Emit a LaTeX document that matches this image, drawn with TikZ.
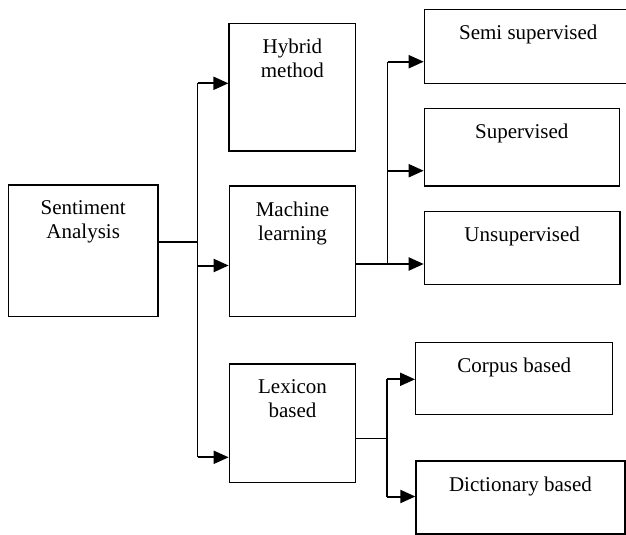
\documentclass[tikz,border=0pt]{standalone}
\usepackage{fontspec}
\setmainfont{Liberation Serif}
\usetikzlibrary{arrows.meta,positioning}
\tikzstyle{blk}=[draw, line width=1.3pt, inner sep=0pt]
\tikzstyle{lbl}=[inner sep=0pt, align=center, font=\fontsize{21}{24.4}\selectfont]
\tikzstyle{wire}=[line width=1.3pt]
\tikzstyle{arr}=[line width=2pt, -{Triangle[length=15pt,width=13pt]}]

\begin{document}
\begin{tikzpicture}[x=1pt,y=-1pt]
    \useasboundingbox (0,0) rectangle (626,535);
    % boxes
    \node [blk, minimum width=149.7pt, minimum height=131.7pt] (sa) at (83.2,250.8) {};
    \node [blk, minimum width=126.7pt, minimum height=127.7pt] (hyb) at (292.4,87.2) {};
    \node [blk, minimum width=126.4pt, minimum height=130.7pt] (ml) at (292.5,251.3) {};
    \node [blk, minimum width=126.4pt, minimum height=118.7pt] (lex) at (292.5,423.3) {};
    \node [blk, minimum width=207.7pt, minimum height=74pt] (semi) at (528.2,46.3) {};
    \node [blk, minimum width=195pt, minimum height=77.7pt] (sup) at (521.8,147.2) {};
    \node [blk, minimum width=195.7pt, minimum height=72.6pt] (uns) at (522.2,248) {};
    \node [blk, minimum width=197pt, minimum height=71.6pt] (cor) at (514.2,378.5) {};
    \node [blk, minimum width=209pt, minimum height=73pt] (dic) at (520.5,497.5) {};
    % texts
    \node [lbl, below=16pt of sa.north] {Sentiment\\Analysis};
    \node [lbl, below=16pt of hyb.north] {Hybrid\\method};
    \node [lbl, below=16pt of ml.north] {Machine\\learning};
    \node [lbl, below=16pt of lex.north] {Lexicon\\based};
    \node [lbl, below=16pt of semi.north] {Semi supervised};
    \node [lbl, below=16pt of sup.north] {Supervised};
    \node [lbl, below=16pt of uns.north] {Unsupervised};
    \node [lbl, below=16pt of cor.north] {Corpus based};
    \node [lbl, below=16pt of dic.north] {Dictionary based};
    % trunk
    \coordinate (top) at (197.5,83.3);
    \coordinate (bot) at (197.5,457.3);
    \coordinate (j1) at (197.5,242);
    \coordinate (j2) at (197.5,265.5);
    \draw [wire] (top) -- (bot);
    \draw [wire] (sa.east |- j1) -- (j1);
    \draw [arr] (top) -- (top -| hyb.west);
    \draw [arr] (j2) -- (j2 -| ml.west);
    \draw [arr] (bot) -- (bot -| lex.west);
    % machine learning branch
    \coordinate (m1) at (387.5,61.7);
    \coordinate (m2) at (387.5,170.7);
    \coordinate (m3) at (387.5,264);
    \draw [wire] (ml.east |- m3) -- (m3);
    \draw [wire] (m1) -- (m3);
    \draw [arr] (m1) -- (m1 -| semi.west);
    \draw [arr] (m2) -- (m2 -| sup.west);
    \draw [arr] (m3) -- (m3 -| uns.west);
    % lexicon branch
    \coordinate (l1) at (387,379.3);
    \coordinate (l2) at (387,496.5);
    \coordinate (lo) at (387,438.3);
    \draw [wire] (lex.east |- lo) -- (lo);
    \draw [wire] (l1) -- (l2);
    \draw [arr] (l1) -- (l1 -| cor.west);
    \draw [arr] (l2) -- (l2 -| dic.west);
\end{tikzpicture}
\end{document}
